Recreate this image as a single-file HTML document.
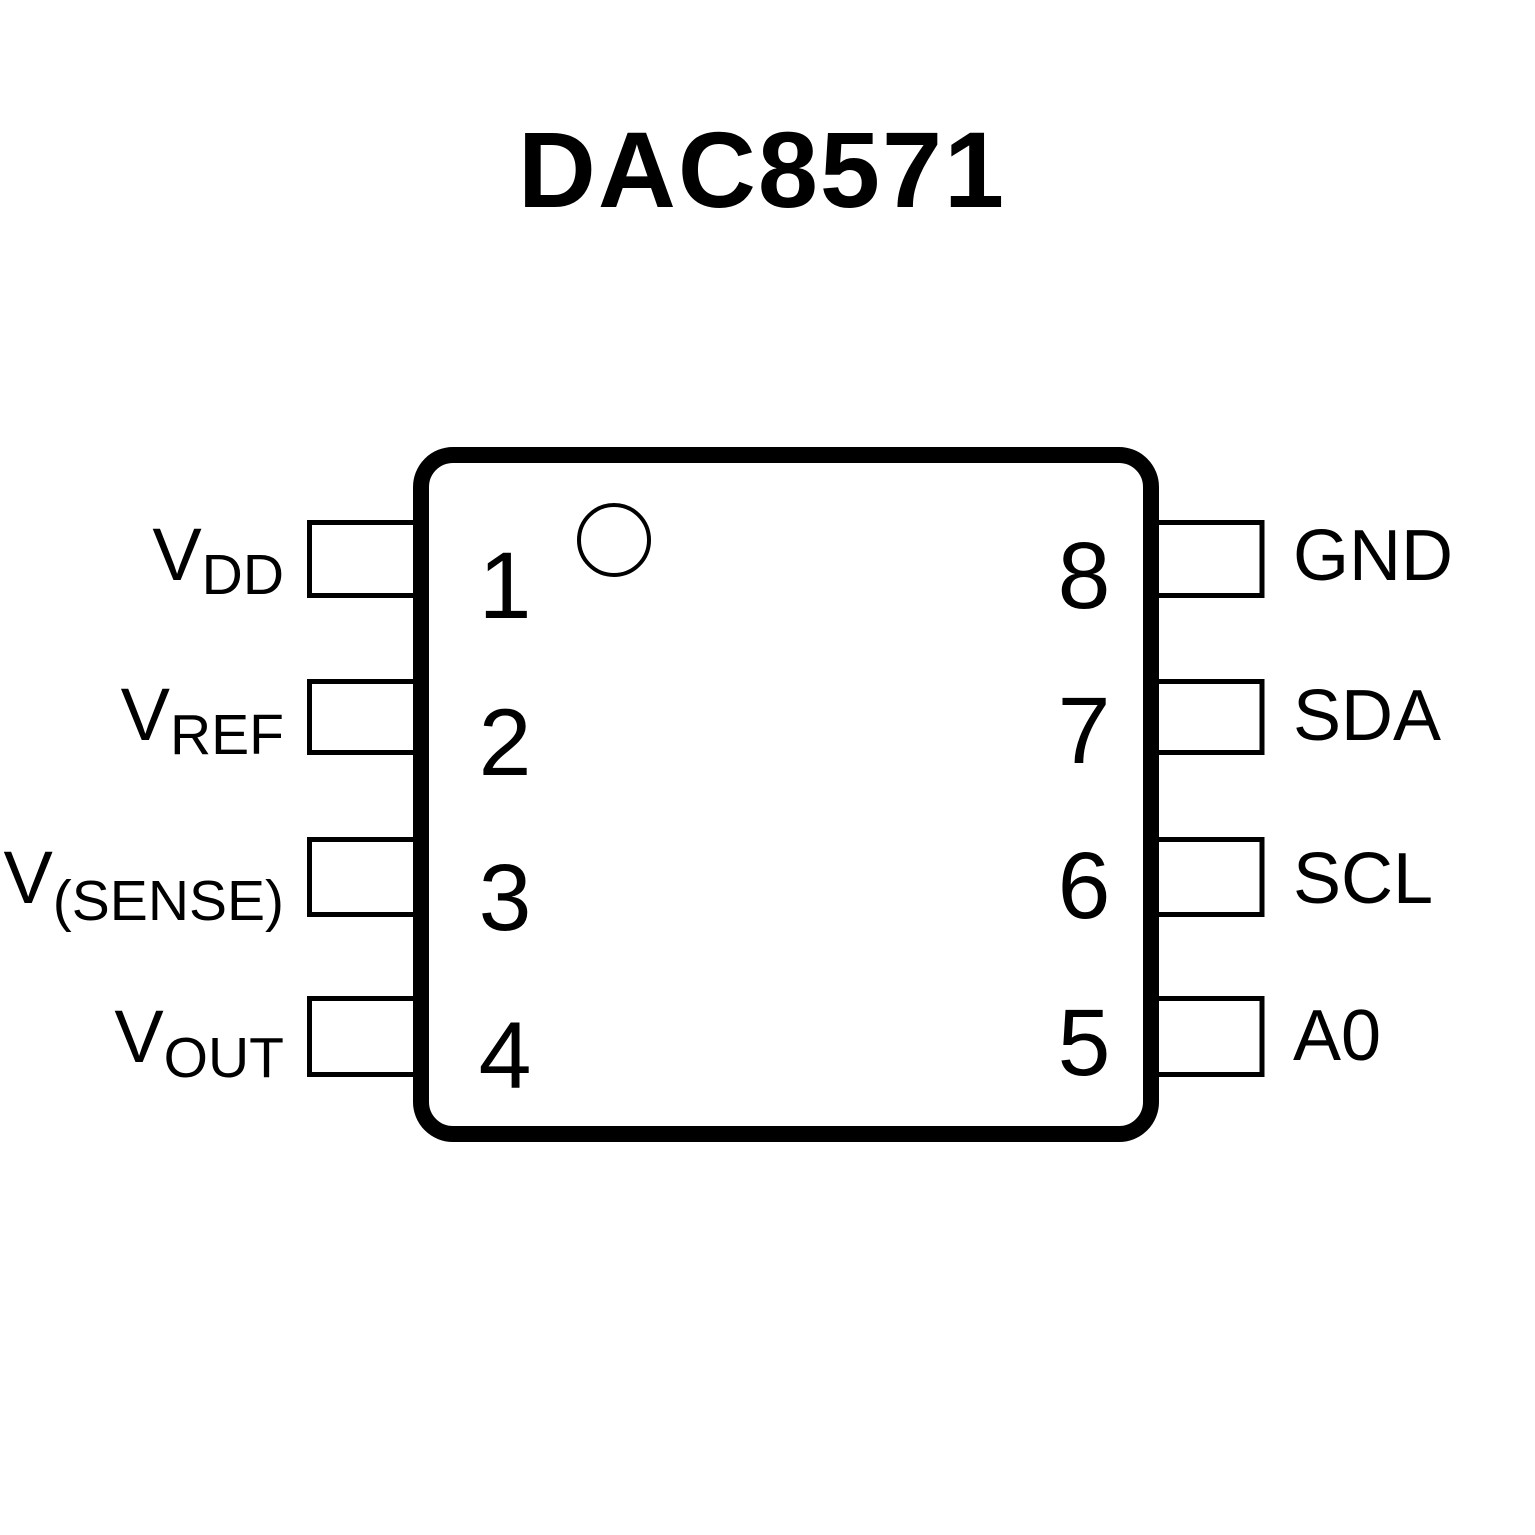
<!DOCTYPE html>
<html><head><style>html,body{margin:0;padding:0;background:#fff}svg{display:block}</style></head>
<body>
<svg width="1535" height="1535" viewBox="0 0 1535 1535" xmlns="http://www.w3.org/2000/svg" font-family="Liberation Sans, Arial, sans-serif">
<rect width="1535" height="1535" fill="#fff"/>
<text x="762" y="207" text-anchor="middle" font-size="108" font-weight="bold" letter-spacing="2">DAC8571</text>
<g fill="none" stroke="#000" stroke-width="5">
<rect x="309.5" y="522.5" width="106" height="73"/>
<rect x="309.5" y="681.5" width="106" height="71"/>
<rect x="309.5" y="839.5" width="106" height="75"/>
<rect x="309.5" y="998.5" width="106" height="76"/>
<rect x="1156" y="522.5" width="106" height="73"/>
<rect x="1156" y="681.5" width="106" height="71"/>
<rect x="1156" y="839.5" width="106" height="75"/>
<rect x="1156" y="998.5" width="106" height="76"/>
</g>
<rect x="421" y="455" width="730" height="679" rx="32" fill="#fff" stroke="#000" stroke-width="16"/>
<circle cx="614" cy="540" r="35" fill="none" stroke="#000" stroke-width="4"/>
<g font-size="95" text-anchor="middle">
<text x="505" y="618">1</text>
<text x="505" y="775">2</text>
<text x="505" y="930">3</text>
<text x="505" y="1088">4</text>
<text x="1084" y="608">8</text>
<text x="1084" y="763">7</text>
<text x="1084" y="918">6</text>
<text x="1084" y="1075">5</text>
</g>
<g font-size="74" text-anchor="end">
<text x="284" y="580">V<tspan font-size="57" dy="14">DD</tspan></text>
<text x="284" y="740">V<tspan font-size="57" dy="14">REF</tspan></text>
<text x="284" y="903">V<tspan font-size="57" dy="17">(SENSE)</tspan></text>
<text x="284" y="1062">V<tspan font-size="57" dy="15">OUT</tspan></text>
</g>
<g font-size="72">
<text x="1293" y="580">GND</text>
<text x="1293" y="740">SDA</text>
<text x="1293" y="903">SCL</text>
<text x="1293" y="1060">A0</text>
</g>
</svg>
</body></html>
